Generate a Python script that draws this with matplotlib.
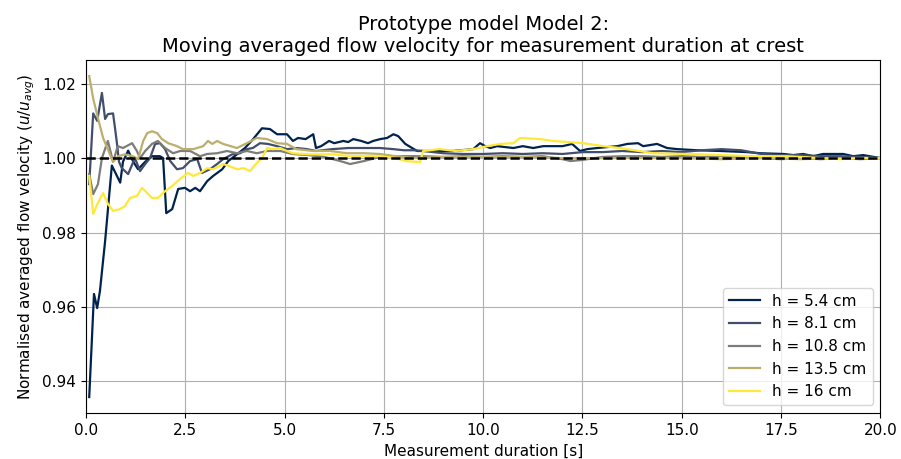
import matplotlib
matplotlib.use("Agg")
import matplotlib.pyplot as plt
import numpy as np

# Slightly larger text than the default, as in the original figure
plt.rcParams.update({
    "font.size": 11,
    "axes.titlesize": 14,
    "legend.fontsize": 11,
})

t_54 = [0.08, 0.20, 0.28, 0.35, 0.48, 0.65, 0.86, 0.93, 1.06, 1.19,
        1.31, 1.49, 1.66, 1.86, 1.94, 2.02, 2.17, 2.32, 2.49, 2.62,
        2.75, 2.87, 3.05, 3.20, 3.43, 3.58, 3.80, 4.00, 4.20, 4.43,
        4.63, 4.81, 5.06, 5.21, 5.34, 5.53, 5.72, 5.79, 5.92, 6.12,
        6.25, 6.48, 6.60, 6.73, 6.93, 7.10, 7.23, 7.41, 7.58, 7.74,
        7.86, 8.04, 8.21, 8.34, 8.74, 9.24, 9.75, 9.92, 10.05, 10.18,
        10.35, 10.76, 11.00, 11.26, 11.51, 12.00, 12.24, 12.44, 12.62, 12.87,
        13.38, 13.63, 13.90, 14.03, 14.38, 14.63, 14.89, 15.39, 15.97, 16.65,
        16.98, 17.56, 17.81, 18.06, 18.31, 18.56, 19.07, 19.32, 19.57, 20.00]
u_54 = [.9358, .9635, .9597, .9643, .9777, .9980, .9934, .9990, 1.0020, .9990,
        .9970, .9990, 1.0005, 1.0005, 1.0000, .9852, .9863, .9917, .9920, .9911,
        .9920, .9911, .9938, .9952, .9970, .9992, 1.0010, 1.0027, 1.0050, 1.0080,
        1.0078, 1.0064, 1.0064, 1.0046, 1.0054, 1.0051, 1.0064, 1.0027, 1.0032, 1.0046,
        1.0040, 1.0046, 1.0043, 1.0051, 1.0046, 1.0040, 1.0046, 1.0051, 1.0054, 1.0064,
        1.0059, 1.0038, 1.0027, 1.0019, 1.0019, 1.0019, 1.0024, 1.0040, 1.0032, 1.0027,
        1.0032, 1.0027, 1.0032, 1.0027, 1.0032, 1.0032, 1.0038, 1.0019, 1.0024, 1.0027,
        1.0032, 1.0038, 1.0040, 1.0032, 1.0038, 1.0027, 1.0024, 1.0021, 1.0019, 1.0016,
        1.0013, 1.0011, 1.0008, 1.0011, 1.0005, 1.0011, 1.0011, 1.0005, 1.0008, 1.0000]

t_81 = [0.08, 0.18, 0.28, 0.40, 0.48, 0.55, 0.68, 0.73, 0.78, 0.83,
        0.90, 1.06, 1.23, 1.36, 1.49, 1.61, 1.74, 1.86, 1.99, 2.12,
        2.29, 2.44, 2.62, 2.80, 2.92, 3.12, 3.30, 3.45, 3.68, 3.88,
        4.05, 4.20, 4.38, 4.58, 4.81, 5.06, 5.31, 5.56, 5.80, 6.20,
        6.60, 7.00, 7.40, 7.74, 8.00, 8.25, 8.49, 9.00, 9.50, 10.00,
        10.50, 11.00, 11.50, 12.00, 12.50, 13.00, 13.50, 14.00, 14.50, 15.00,
        15.50, 16.00, 16.50, 17.00, 17.50, 18.00, 18.50, 19.00, 19.50, 20.00]
u_81 = [.9930, 1.0120, 1.0100, 1.0175, 1.0105, 1.0118, 1.0120, 1.0080, 1.0038, .9990,
        .9973, .9957, 1.0000, .9965, .9984, 1.0000, 1.0038, 1.0040, 1.0024, .9992,
        .9970, .9973, .9992, .9997, .9960, .9970, .9984, .9997, 1.0010, 1.0013,
        1.0024, 1.0027, 1.0040, 1.0038, 1.0032, 1.0024, 1.0027, 1.0024, 1.0019, 1.0024,
        1.0027, 1.0027, 1.0027, 1.0024, 1.0021, 1.0021, 1.0019, 1.0013, 1.0011, 1.0011,
        1.0013, 1.0011, 1.0013, 1.0011, 1.0016, 1.0016, 1.0019, 1.0016, 1.0019, 1.0016,
        1.0021, 1.0024, 1.0021, 1.0011, 1.0008, 1.0008, 1.0005, 1.0005, 1.0003, 1.0000]

t_108 = [0.08, 0.18, 0.30, 0.40, 0.55, 0.68, 0.80, 0.93, 1.16, 1.28,
         1.36, 1.49, 1.66, 1.81, 1.99, 2.19, 2.37, 2.62, 2.87, 3.05,
         3.30, 3.55, 3.80, 4.05, 4.30, 4.56, 4.89, 5.20, 5.60, 6.00,
         6.40, 6.65, 7.00, 7.40, 8.00, 8.50, 9.00, 9.50, 10.00, 10.50,
         11.00, 11.50, 12.00, 12.20, 12.50, 13.00, 13.50, 14.00, 14.50, 15.00,
         15.50, 16.00, 16.50, 17.00, 17.50, 18.00, 18.50, 19.00, 19.50, 20.00]
u_108 = [.9957, .9903, .9930, 1.0000, 1.0046, .9990, 1.0032, 1.0027, 1.0040, 1.0019,
         1.0000, 1.0019, 1.0038, 1.0046, 1.0027, 1.0013, 1.0019, 1.0019, 1.0005, 1.0011,
         1.0013, 1.0019, 1.0013, 1.0019, 1.0013, 1.0019, 1.0019, 1.0011, 1.0008, 1.0003,
         .9992, .9984, .9992, 1.0003, 1.0005, 1.0005, 1.0003, 1.0005, 1.0003, 1.0005,
         1.0003, 1.0005, .9997, .9992, .9995, 1.0003, 1.0005, 1.0005, 1.0003, 1.0005,
         1.0003, 1.0005, 1.0003, 1.0000, .9997, 1.0000, .9997, 1.0000, .9997, 1.0000]

t_135 = [0.08, 0.18, 0.30, 0.43, 0.60, 0.68, 0.81, 0.98, 1.18, 1.31,
         1.44, 1.54, 1.66, 1.79, 1.91, 2.07, 2.29, 2.44, 2.70, 2.95,
         3.07, 3.18, 3.30, 3.45, 3.80, 4.05, 4.30, 4.56, 4.81, 5.06,
         5.30, 5.72, 6.15, 6.57, 7.00, 7.40, 7.80, 8.24, 9.00, 10.00,
         11.00, 12.00, 13.00, 14.00, 15.00, 16.00, 17.00, 18.00, 19.00, 20.00]
u_135 = [1.0220, 1.0160, 1.0107, 1.0054, 1.0010, .9990, 1.0005, 1.0010, 1.0005, .9997,
         1.0046, 1.0067, 1.0072, 1.0067, 1.0051, 1.0040, 1.0032, 1.0024, 1.0024, 1.0032,
         1.0046, 1.0038, 1.0046, 1.0038, 1.0027, 1.0040, 1.0054, 1.0051, 1.0040, 1.0038,
         1.0024, 1.0019, 1.0019, 1.0013, 1.0013, 1.0011, 1.0005, 1.0000, 1.0003, 1.0003,
         1.0003, 1.0000, 1.0000, 1.0000, 1.0000, .9997, 1.0000, .9997, 1.0000, 1.0000]

t_16 = [0.08, 0.18, 0.30, 0.43, 0.55, 0.68, 0.86, 0.98, 1.11, 1.28,
        1.41, 1.54, 1.66, 1.81, 1.99, 2.17, 2.37, 2.57, 2.70, 2.87,
        3.05, 3.20, 3.45, 3.62, 3.80, 3.97, 4.13, 4.30, 4.43, 4.56,
        4.71, 4.89, 5.06, 5.21, 5.60, 6.25, 6.65, 7.00, 7.40, 7.80,
        8.05, 8.41, 8.49, 8.90, 9.30, 9.75, 10.10, 10.43, 10.76, 10.93,
        11.44, 11.76, 12.52, 13.02, 13.45, 14.28, 15.14, 15.97, 16.80, 17.66,
        18.49, 18.99, 19.50, 20.00]
u_16 = [.9952, .9850, .9880, .9906, .9877, .9858, .9863, .9871, .9893, .9898,
        .9920, .9906, .9893, .9893, .9911, .9925, .9944, .9960, .9952, .9960,
        .9973, .9970, .9984, .9978, .9970, .9973, .9965, .9987, 1.0000, 1.0027,
        1.0024, 1.0027, 1.0019, 1.0013, 1.0010, 1.0010, 1.0005, 1.0005, 1.0005, 1.0000,
        .9992, .9989, 1.0019, 1.0024, 1.0019, 1.0024, 1.0032, 1.0038, 1.0040, 1.0054,
        1.0051, 1.0046, 1.0040, 1.0032, 1.0027, 1.0013, 1.0011, 1.0008, 1.0005, 1.0005,
        1.0000, .9997, 1.0000, 1.0000]

series = [("h = 5.4 cm", t_54, u_54),
          ("h = 8.1 cm", t_81, u_81),
          ("h = 10.8 cm", t_108, u_108),
          ("h = 13.5 cm", t_135, u_135),
          ("h = 16 cm", t_16, u_16)]

colors = plt.cm.cividis(np.linspace(0, 1, len(series)))

fig, ax = plt.subplots(figsize=(9.01, 4.59), dpi=100)
fig.subplots_adjust(left=0.0955, right=0.977, bottom=0.1, top=0.869)

for (label, t, u), c in zip(series, colors):
    ax.plot(t, u, color=c, linewidth=1.6, label=label)

ax.axhline(1.0, color="black", linestyle="--", linewidth=1.8)

ax.set_xlim(0, 20)
ax.set_title("Prototype model Model 2:\nMoving averaged flow velocity for measurement duration at crest")
ax.set_xlabel("Measurement duration [s]")
ax.set_ylabel("Normalised averaged flow velocity ($u/u_{avg}$)")
ax.grid(True)
ax.legend(loc="lower right")

plt.savefig("out.png", dpi=100)
